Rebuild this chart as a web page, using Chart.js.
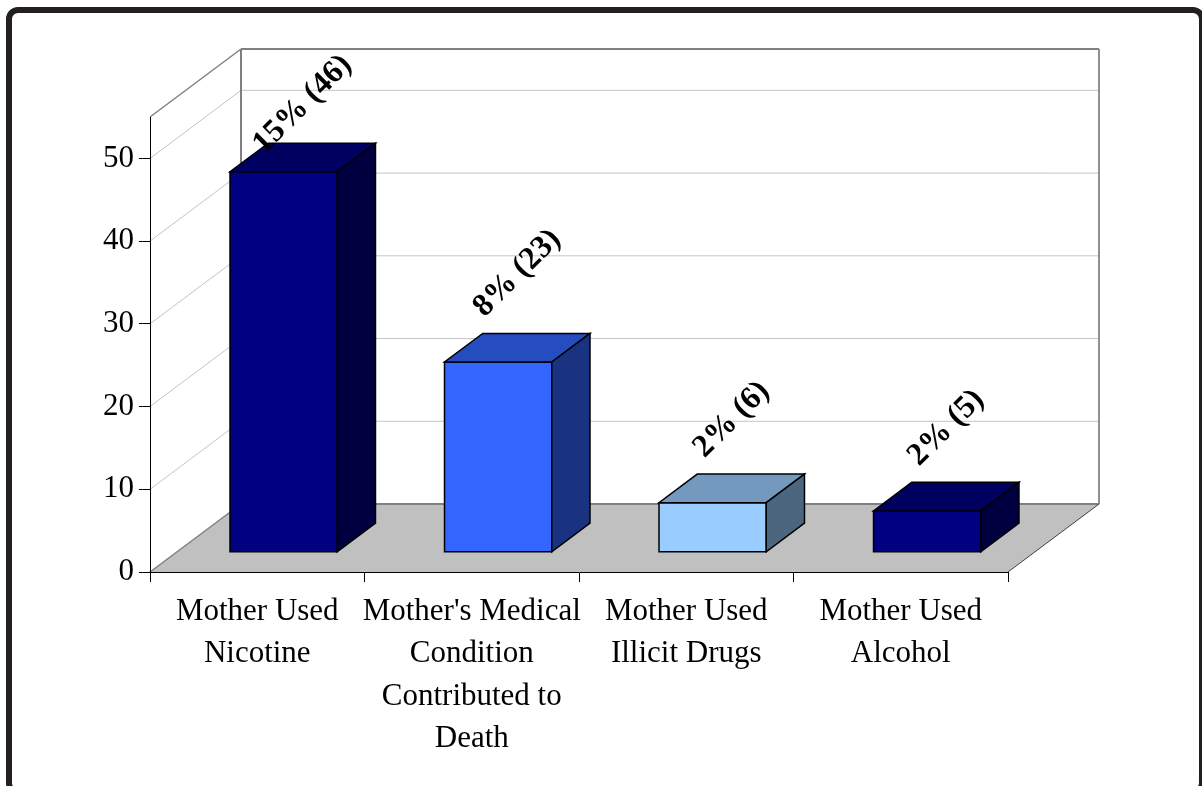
<!DOCTYPE html>
<html>
<head>
<meta charset="utf-8">
<script src="https://cdn.jsdelivr.net/npm/chart.js@4"></script>
<style>
  html, body { margin: 0; padding: 0; background: #fff; }
  #wrap { position: relative; width: 1202px; height: 786px; overflow: hidden; }
  #frame {
    position: absolute; left: 6px; top: 7px; width: 1199px; height: 788px;
    box-sizing: border-box; border: 6px solid #231f20; border-radius: 12px;
  }
  #c { position: absolute; left: 0; top: 0; }
</style>
</head>
<body>
<div id="wrap">
  <div id="frame"></div>
  <canvas id="c" width="1202" height="786"></canvas>
</div>
<script>
// Risk factors: number of cases and share of all cases
const categories = [
  ["Mother Used", "Nicotine"],
  ["Mother's Medical", "Condition", "Contributed to", "Death"],
  ["Mother Used", "Illicit Drugs"],
  ["Mother Used", "Alcohol"]
];
const counts = [46, 23, 6, 5];
const percents = [15, 8, 2, 2];
const barColors = ["#000080", "#3366FF", "#99CCFF", "#000080"];
const yTicks = [0, 10, 20, 30, 40, 50];
const yMax = 55;

// Oblique 3-D look: how far the back wall sits behind the front plane
const DEPTH_X = 91, DEPTH_Y = 68;
const BAR_FRONT = 0.29, BAR_BACK = 0.71;   // bar placement within the floor depth
const BAR_WIDTH = 0.5;                      // share of each category slot
const SERIF = "'Liberation Serif', 'Times New Roman', serif";
const LABEL_SIZE = 32;

function shade(hex, k) {
  const n = parseInt(hex.slice(1), 16);
  const r = Math.round(((n >> 16) & 255) * k);
  const g = Math.round(((n >> 8) & 255) * k);
  const b = Math.round((n & 255) * k);
  return `rgb(${r},${g},${b})`;
}

function poly(ctx, pts, fill, stroke, lw) {
  ctx.beginPath();
  ctx.moveTo(pts[0][0], pts[0][1]);
  for (let i = 1; i < pts.length; i++) ctx.lineTo(pts[i][0], pts[i][1]);
  ctx.closePath();
  if (fill) { ctx.fillStyle = fill; ctx.fill(); }
  if (stroke) { ctx.strokeStyle = stroke; ctx.lineWidth = lw || 1; ctx.lineJoin = "miter"; ctx.stroke(); }
}

function line(ctx, x1, y1, x2, y2, color, lw) {
  ctx.beginPath();
  ctx.moveTo(x1, y1);
  ctx.lineTo(x2, y2);
  ctx.strokeStyle = color;
  ctx.lineWidth = lw;
  ctx.stroke();
}

const box3d = {
  id: "box3d",
  // walls and floor go under the axes
  beforeDraw(chart) {
    const { ctx, chartArea: a, scales: { y } } = chart;
    const L = a.left, R = a.right, T = y.getPixelForValue(yMax), B = y.getPixelForValue(0);
    ctx.save();
    // back wall
    poly(ctx, [[L + DEPTH_X, T - DEPTH_Y], [R + DEPTH_X, T - DEPTH_Y], [R + DEPTH_X, B - DEPTH_Y], [L + DEPTH_X, B - DEPTH_Y]], "#ffffff");
    // side wall
    poly(ctx, [[L, T], [L + DEPTH_X, T - DEPTH_Y], [L + DEPTH_X, B - DEPTH_Y], [L, B]], "#ffffff");
    // gridlines on both walls
    yTicks.forEach(v => {
      if (v === 0) return;
      const py = y.getPixelForValue(v);
      line(ctx, L, py, L + DEPTH_X, py - DEPTH_Y, "#c4c4c4", 1);
      line(ctx, L + DEPTH_X, py - DEPTH_Y, R + DEPTH_X, py - DEPTH_Y, "#c4c4c4", 1);
    });
    // floor
    poly(ctx, [[L, B], [R, B], [R + DEPTH_X, B - DEPTH_Y], [L + DEPTH_X, B - DEPTH_Y]], "#c0c0c0");
    // wall edges
    line(ctx, L, T, L + DEPTH_X, T - DEPTH_Y, "#808080", 1.5);
    line(ctx, L + DEPTH_X, T - DEPTH_Y, R + DEPTH_X, T - DEPTH_Y, "#808080", 2);
    line(ctx, R + DEPTH_X, T - DEPTH_Y, R + DEPTH_X, B - DEPTH_Y, "#909090", 2);
    line(ctx, L + DEPTH_X, T - DEPTH_Y, L + DEPTH_X, B - DEPTH_Y, "#808080", 2);
    line(ctx, L + DEPTH_X, B - DEPTH_Y, R + DEPTH_X, B - DEPTH_Y, "#808080", 2);
    line(ctx, L, B, L + DEPTH_X, B - DEPTH_Y, "#808080", 1.5);
    line(ctx, R, B, R + DEPTH_X, B - DEPTH_Y, "#404040", 1);
    ctx.restore();
  },
  // boxes and their value labels
  afterDatasetsDraw(chart) {
    const { ctx, chartArea: a, scales: { x, y } } = chart;
    const meta = chart.getDatasetMeta(0);
    const slot = (a.right - a.left) / categories.length;
    const bw = slot * BAR_WIDTH;
    const fx = BAR_FRONT * DEPTH_X, fy = BAR_FRONT * DEPTH_Y;
    const ox = (BAR_BACK - BAR_FRONT) * DEPTH_X, oy = (BAR_BACK - BAR_FRONT) * DEPTH_Y;
    const wallTop = y.getPixelForValue(yMax) - DEPTH_Y;
    ctx.save();
    meta.data.forEach((el, i) => {
      const c = barColors[i];
      const x0 = el.x - bw / 2 + fx, x1 = el.x + bw / 2 + fx;
      const yb = el.base - fy, yt = el.y - fy;
      // front
      poly(ctx, [[x0, yt], [x1, yt], [x1, yb], [x0, yb]], c, "#000", 1.5);
      // top
      poly(ctx, [[x0, yt], [x1, yt], [x1 + ox, yt - oy], [x0 + ox, yt - oy]], shade(c, 0.75), "#000", 1.5);
      // right side
      poly(ctx, [[x1, yt], [x1 + ox, yt - oy], [x1 + ox, yb - oy], [x1, yb]], shade(c, 0.5), "#000", 1.5);

      // rotated value label above the box
      const text = `${percents[i]}% (${counts[i]})`;
      ctx.font = `bold ${LABEL_SIZE}px ${SERIF}`;
      const tw = ctx.measureText(text).width;
      const below = (tw / 2 + 0.3 * LABEL_SIZE) / Math.SQRT2;
      const above = (tw / 2 + 0.45 * LABEL_SIZE) / Math.SQRT2;
      const cx = (x0 + x1) / 2 + ox / 2;
      const topMid = yt - oy / 2;
      let cy = topMid - 29 - below;
      if (cy - above < wallTop + 1) cy = wallTop + 1 + above;
      ctx.save();
      ctx.translate(cx, cy);
      ctx.rotate(-Math.PI / 4);
      ctx.fillStyle = "#000";
      ctx.textAlign = "center";
      ctx.textBaseline = "middle";
      ctx.fillText(text, 0, 0);
      ctx.restore();
    });
    ctx.restore();
  }
};

new Chart(document.getElementById("c"), {
  type: "bar",
  data: {
    labels: categories,
    datasets: [{
      data: counts,
      backgroundColor: "rgba(0,0,0,0)",
      borderWidth: 0
    }]
  },
  options: {
    responsive: false,
    animation: false,
    devicePixelRatio: 1,
    layout: { padding: { left: 0, top: 117, right: 194, bottom: 0 } },
    plugins: { legend: { display: false }, tooltip: { enabled: false } },
    scales: {
      x: {
        offset: true,
        grid: { drawOnChartArea: false, drawTicks: true, tickLength: 10, color: "#000", offset: true },
        border: { display: true, color: "#000", width: 1 },
        ticks: {
          color: "#000", padding: 9, maxRotation: 0, autoSkip: false,
          font: { family: SERIF, size: 31, lineHeight: 1.36 }
        },
        afterFit(s) { s.height = 214; }
      },
      y: {
        min: 0, max: yMax,
        grid: { drawOnChartArea: false, drawTicks: true, tickLength: 11, color: "#000" },
        border: { display: true, color: "#000", width: 1 },
        ticks: { color: "#000", padding: 5, font: { family: SERIF, size: 31 } },
        afterBuildTicks(s) { s.ticks = yTicks.map(v => ({ value: v })); },
        afterFit(s) { s.width = 150; }
      }
    }
  },
  plugins: [box3d]
});
</script>
</body>
</html>
